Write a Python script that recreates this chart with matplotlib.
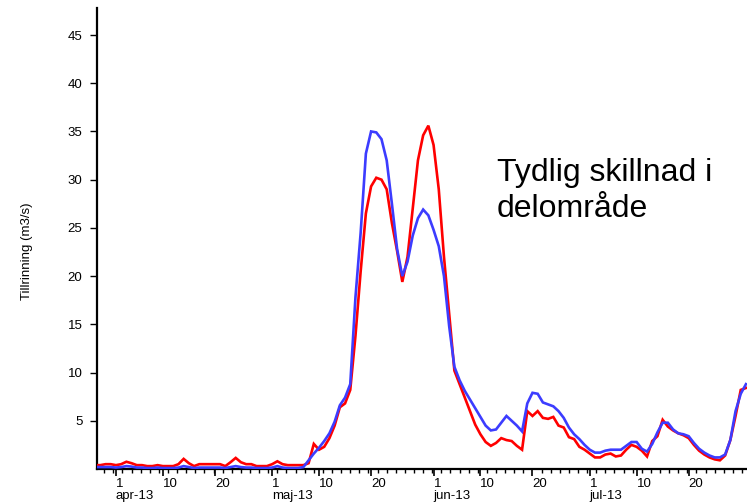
import matplotlib
matplotlib.use("Agg")
import matplotlib.pyplot as plt
import matplotlib.dates as mdates
from matplotlib.ticker import FixedLocator, MultipleLocator
import pandas as pd

plt.rcParams['font.family'] = ['Liberation Sans', 'DejaVu Sans']

# Daily inflow, 28 Mar - 31 Jul 2013
dates = pd.date_range("2013-03-28", "2013-07-31", freq="D")

red_values = [
    # Mar 28-31
    0.4, 0.4, 0.5, 0.5,
    # April
    0.4, 0.5, 0.75, 0.6, 0.4, 0.4, 0.3, 0.3, 0.4, 0.3,
    0.3, 0.3, 0.5, 1.05, 0.6, 0.3, 0.5, 0.5, 0.5, 0.5,
    0.5, 0.3, 0.7, 1.15, 0.7, 0.5, 0.5, 0.3, 0.3, 0.3,
    # May
    0.5, 0.8, 0.5, 0.4, 0.4, 0.4, 0.4, 0.6, 2.6, 2.0,
    2.3, 3.2, 4.5, 6.4, 6.8, 8.2, 13.8, 20.5, 26.5, 29.3,
    30.2, 30.0, 29.0, 25.5, 22.6, 19.4, 22.0, 27.0, 32.0, 34.6,
    35.6,
    # June
    33.6, 29.0, 22.0, 16.1, 10.2, 8.8, 7.4, 6.0, 4.6, 3.6,
    2.8, 2.4, 2.7, 3.2, 3.0, 2.9, 2.4, 2.0, 6.0, 5.5,
    6.0, 5.3, 5.2, 5.4, 4.5, 4.3, 3.3, 3.1, 2.3, 2.0,
    # July
    1.6, 1.2, 1.2, 1.5, 1.6, 1.3, 1.4, 2.0, 2.5, 2.3,
    1.9, 1.3, 2.9, 3.4, 5.1, 4.4, 4.0, 3.7, 3.5, 3.2,
    2.5, 1.9, 1.5, 1.2, 1.0, 0.9, 1.4, 3.0, 5.5, 8.2,
    8.4,
]

blue_values = [
    # Mar 28-31
    0.2, 0.2, 0.2, 0.2,
    # April
    0.15, 0.2, 0.3, 0.25, 0.15, 0.15, 0.1, 0.1, 0.15, 0.1,
    0.1, 0.1, 0.15, 0.3, 0.2, 0.1, 0.15, 0.15, 0.15, 0.15,
    0.15, 0.1, 0.2, 0.3, 0.2, 0.15, 0.15, 0.1, 0.1, 0.1,
    # May
    0.15, 0.3, 0.15, 0.1, 0.1, 0.1, 0.2, 0.9, 1.6, 2.2,
    2.9, 3.7, 4.9, 6.6, 7.4, 8.8, 17.8, 24.5, 32.7, 35.0,
    34.9, 34.2, 32.0, 27.5, 22.8, 20.0, 21.5, 24.2, 26.0, 26.9,
    26.3,
    # June
    24.8, 23.1, 20.0, 14.8, 10.6, 9.2, 8.1, 7.2, 6.3, 5.4,
    4.5, 4.0, 4.1, 4.8, 5.5, 5.0, 4.5, 3.9, 6.8, 7.9,
    7.8, 6.9, 6.7, 6.5, 6.0, 5.3, 4.3, 3.6, 3.1, 2.5,
    # July
    2.0, 1.7, 1.7, 1.9, 2.0, 2.0, 2.0, 2.4, 2.8, 2.8,
    2.1, 1.8, 2.6, 3.8, 4.8, 4.8, 4.1, 3.7, 3.6, 3.4,
    2.7, 2.1, 1.7, 1.4, 1.2, 1.2, 1.5, 3.0, 6.0, 7.8,
    8.8,
]

y_ticks = [5, 10, 15, 20, 25, 30, 35, 40, 45]
month_starts = ["2013-04-01", "2013-05-01", "2013-06-01", "2013-07-01"]
month_names = ["apr-13", "maj-13", "jun-13", "jul-13"]
day_marks = [1, 10, 20]

fig = plt.figure(figsize=(7.47, 5.04), dpi=100)
ax = fig.add_axes([97 / 747, 35 / 504, 650 / 747, 461 / 504])

x = mdates.date2num(dates)
ax.plot(x, red_values, color="#ff0000", lw=1.9, solid_joinstyle="miter", zorder=3)
ax.plot(x, blue_values, color="#3c3cff", lw=1.9, solid_joinstyle="miter", zorder=4)

apr1 = mdates.date2num(pd.Timestamp("2013-04-01"))
ax.set_xlim(apr1 - 3.64, apr1 + 121.2)
ax.set_ylim(0, 47.8)

for side in ("top", "right"):
    ax.spines[side].set_visible(False)
for side in ("left", "bottom"):
    ax.spines[side].set_linewidth(1.6)
    ax.spines[side].set_color("black")

ax.set_yticks(y_ticks)
ax.set_yticklabels([str(v) for v in y_ticks])
ax.tick_params(axis="y", direction="out", length=5, width=1, pad=5.5,
               labelsize=9.5, colors="black")

# major ticks on the 1st, 10th and 20th of each month
major_pos, major_lab = [], []
for ms, mn in zip(month_starts, month_names):
    start = pd.Timestamp(ms)
    for d in day_marks:
        major_pos.append(mdates.date2num(start + pd.Timedelta(days=d - 1)))
        major_lab.append(f"{d}\n{mn}" if d == 1 else f"{d}")
ax.xaxis.set_major_locator(FixedLocator(major_pos))
ax.set_xticklabels(major_lab)
for lab in ax.get_xticklabels():
    lab.set_ha("left")
    lab.set_multialignment("left")
    lab.set_linespacing(1.05)
ax.xaxis.set_minor_locator(MultipleLocator(1.75))
ax.tick_params(axis="x", which="major", direction="out", length=5, width=1.2,
               pad=1.5, labelsize=9.5, colors="black")
ax.tick_params(axis="x", which="minor", direction="out", length=3, width=1,
               colors="black")

fig.text(27 / 747, 1 - 251 / 504, "Tillrinning (m3/s)", rotation=90,
         ha="center", va="center", fontsize=9.5)

fig.text(497 / 747, 1 - 217 / 504, "Tydlig skillnad i\ndelområde",
         fontsize=23, ha="left", va="baseline", linespacing=1.25,
         color="black")

fig.savefig("out.png", dpi=100)
